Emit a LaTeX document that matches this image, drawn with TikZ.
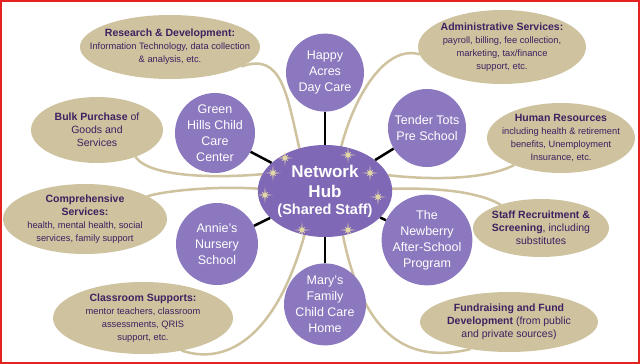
\documentclass[tikz,border=0pt]{standalone}
\usepackage{fontspec}
\setmainfont{Liberation Sans}
\usepackage{xcolor}
\usetikzlibrary{positioning,shapes.geometric,backgrounds}
\definecolor{sitepurple}{HTML}{8C78BE}
\definecolor{hubpurple}{HTML}{7F68B5}
\definecolor{servicetan}{HTML}{CEC29F}
\definecolor{startan}{HTML}{E2D6A8}
\definecolor{infotext}{HTML}{3D2160}
\definecolor{framered}{HTML}{E42320}
\newcommand{\svchead}[1]{{\fontsize{10.5}{13}\selectfont\bfseries #1}}
\tikzset{sparkle/.pic={\fill[startan] (0:8) -- (22.5:1.8) -- (45:4.5) -- (67.5:1.8) -- (90:8) -- (112.5:1.8) -- (135:4.5) -- (157.5:1.8) -- (180:8) -- (202.5:1.8) -- (225:4.5) -- (247.5:1.8) -- (270:8) -- (292.5:1.8) -- (315:4.5) -- (337.5:1.8) -- cycle;}}

\begin{document}
\begin{tikzpicture}[
    x=1pt, y=-1pt,
    site/.style={circle, fill=sitepurple, text=white, minimum size=80pt, inner sep=0pt, align=center, font=\fontsize{12.5}{16}\selectfont},
    hubnode/.style={ellipse, fill=hubpurple, text=white, minimum width=134pt, minimum height=92pt, inner sep=0pt, align=center, font=\fontsize{17}{20}\selectfont\bfseries},
    info/.style={ellipse, fill=servicetan, text=infotext, inner xsep=-40pt, inner ysep=-30pt, align=center, font=\fontsize{9.3}{13}\selectfont},
    bigger/.style={font=\fontsize{10.5}{13}\selectfont},
    link/.style={line width=2.5pt, black},
    ribbon/.style={line width=2.5pt, servicetan, line cap=round}
]
\useasboundingbox (0,0) rectangle (640,364);

\node[hubnode] (hub) at (325,191) {Network\\Hub\\[-3pt]\fontsize{14.5}{16}\selectfont(Shared Staff)};

\node[site, above=33pt of hub, minimum size=78pt] (happy) {Happy\\Acres\\Day Care};
\node[site, below=26pt of hub, minimum size=82pt] (marys) {Mary’s\\Family\\Child Care\\Home};
\node[site] (greenhills) at (215,133) {Green\\Hills Child\\Care\\Center};
\node[site, minimum size=78pt] (tendertots) at (427,128) {Tender Tots\\Pre School};
\node[site, minimum size=82pt] (annies) at (217,244) {Annie’s\\Nursery\\School};
\node[site] (newberry) at (427,240) {The\\Newberry\\After-School\\Program};

\node[info, minimum width=180pt, minimum height=64pt] (research) at (170,47) {\svchead{Research \& Development:}\\Information Technology, data collection\\\& analysis, etc.};
\node[info, bigger, minimum width=132pt, minimum height=66pt] (bulk) at (97,130) {\textbf{Bulk Purchase} of\\Goods and\\Services};
\node[info, minimum width=164pt, minimum height=70pt] (comprehensive) at (85,219) {\svchead{Comprehensive}\\\svchead{Services:}\\health, mental health, social\\services, family support};
\node[info, minimum width=180pt, minimum height=72pt] (classroom) at (143,318) {\svchead{Classroom Supports:}\\mentor teachers, classroom\\assessments, QRIS\\support, etc.};
\node[info, minimum width=168pt, minimum height=74pt] (admin) at (502,47) {\svchead{Administrative Services:}\\payroll, billing, fee collection,\\marketing, tax/finance\\support, etc.};
\node[info, minimum width=148pt, minimum height=70pt] (humanres) at (561,138) {\svchead{Human Resources}\\including health \& retirement\\benefits, Unemployment\\Insurance, etc.};
\node[info, bigger, minimum width=136pt, minimum height=58pt] (staff) at (541,228) {\textbf{Staff Recruitment \&}\\\textbf{Screening}, including\\substitutes};
\node[info, bigger, minimum width=178pt, minimum height=60pt] (fundraising) at (509,322) {\textbf{Fundraising and Fund}\\\textbf{Development} (from public\\and private sources)};

% ribbons behind everything
\begin{scope}[on background layer]
\draw[ribbon] (research.-15) .. controls (282,52) and (287,95) .. (hub.121);
\draw[ribbon] (admin.185) .. controls (385,45) and (355,95) .. (hub.70);
\draw[ribbon] (bulk.-35) .. controls (150,178) and (220,178) .. (hub.165);
\draw[ribbon] (comprehensive.20) .. controls (168,190) and (220,186) .. (hub.178);
\draw[ribbon] (classroom.-40) .. controls (225,365) and (275,340) .. (hub.245);
\draw[ribbon] (humanres.210) .. controls (485,180) and (430,180) .. (hub.14);
\draw[ribbon] (staff.150) .. controls (475,190) and (430,188) .. (hub.2);
\draw[ribbon] (fundraising.215) .. controls (415,362) and (365,345) .. (hub.292);
\end{scope}

\draw[link] (hub) -- (happy);
\draw[link] (hub) -- (marys);
\draw[link] (hub) -- (greenhills);
\draw[link] (hub) -- (tendertots);
\draw[link] (hub) -- (annies);
\draw[link] (hub) -- (newberry);

\foreach \p in {(285,158),(348,155),(273,173),(370,173),(265,195),(378,197),(302,230),(348,230)}
  \pic at \p {sparkle};

\draw[framered, line width=2pt] (1,1) rectangle (639,363);
\end{tikzpicture}
\end{document}
